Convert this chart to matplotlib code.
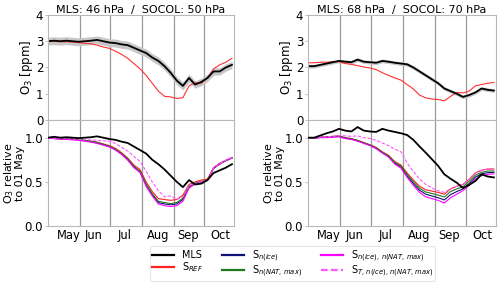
import numpy as np
import matplotlib
matplotlib.use('Agg')
import matplotlib.pyplot as plt

# days since 01 May
days = np.arange(0, 181, 6)

# ---- 46/50 hPa (left) ----
mls_l = [3.0, 3.02, 3.0, 3.02, 3.0, 2.98, 3.0, 3.02, 3.05, 3.0, 2.95, 2.93, 2.88, 2.85, 2.75, 2.65,
         2.55, 2.38, 2.25, 2.05, 1.8, 1.5, 1.3, 1.6, 1.35, 1.45, 1.6, 1.85, 1.85, 2.0, 2.1]
mls_sd_l = [0.15, 0.15, 0.15, 0.15, 0.15, 0.15, 0.15, 0.15, 0.15, 0.15, 0.15, 0.15, 0.15, 0.15, 0.15, 0.15,
            0.15, 0.15, 0.15, 0.15, 0.15, 0.15, 0.15, 0.15, 0.14, 0.14, 0.14, 0.14, 0.14, 0.14, 0.14]
ref_l = [3.0, 3.0, 2.98, 2.98, 2.97, 2.95, 2.92, 2.9, 2.85, 2.78, 2.73, 2.62, 2.5, 2.35, 2.15, 1.95,
         1.7, 1.4, 1.1, 0.9, 0.88, 0.82, 0.85, 1.3, 1.42, 1.4, 1.6, 1.95, 2.1, 2.2, 2.35]

rel_mls_l = [1.0, 1.01, 1.0, 1.005, 1.0, 0.995, 1.0, 1.005, 1.015, 1.0, 0.985, 0.975, 0.955, 0.94, 0.9, 0.86,
             0.82, 0.75, 0.7, 0.64, 0.57, 0.5, 0.44, 0.52, 0.47, 0.48, 0.52, 0.6, 0.63, 0.66, 0.7]
rel_ref_l = [1.0, 0.995, 0.99, 0.99, 0.985, 0.98, 0.97, 0.96, 0.95, 0.93, 0.91, 0.88, 0.83, 0.77, 0.69, 0.64,
             0.5, 0.39, 0.31, 0.3, 0.29, 0.3, 0.35, 0.47, 0.5, 0.52, 0.53, 0.66, 0.71, 0.74, 0.77]
rel_ice_l = [1.0, 0.99, 0.985, 0.985, 0.98, 0.975, 0.965, 0.955, 0.94, 0.92, 0.9, 0.865, 0.815, 0.755, 0.67, 0.615,
             0.465, 0.355, 0.265, 0.25, 0.24, 0.25, 0.3, 0.44, 0.48, 0.5, 0.515, 0.65, 0.7, 0.74, 0.77]
rel_nat_l = [1.0, 0.99, 0.99, 0.99, 0.98, 0.98, 0.97, 0.96, 0.945, 0.925, 0.9, 0.87, 0.82, 0.76, 0.675, 0.62,
             0.475, 0.365, 0.28, 0.265, 0.255, 0.265, 0.315, 0.45, 0.485, 0.505, 0.52, 0.655, 0.705, 0.74, 0.77]
rel_both_l = [0.995, 0.99, 0.985, 0.98, 0.975, 0.97, 0.96, 0.95, 0.935, 0.915, 0.895, 0.86, 0.81, 0.745, 0.66, 0.605,
              0.45, 0.34, 0.25, 0.23, 0.22, 0.23, 0.28, 0.43, 0.475, 0.5, 0.515, 0.655, 0.705, 0.745, 0.775]
rel_t_l = [1.0, 0.995, 0.99, 0.99, 0.985, 0.98, 0.975, 0.975, 0.97, 0.965, 0.96, 0.935, 0.89, 0.85, 0.79, 0.73,
           0.62, 0.5, 0.4, 0.33, 0.34, 0.3, 0.33, 0.46, 0.48, 0.5, 0.52, 0.655, 0.705, 0.745, 0.775]

# ---- 68/70 hPa (right) ----
mls_r = [2.05, 2.05, 2.1, 2.15, 2.2, 2.25, 2.22, 2.2, 2.3, 2.22, 2.2, 2.18, 2.25, 2.22, 2.18, 2.15,
         2.12, 2.0, 1.85, 1.7, 1.55, 1.4, 1.2, 1.1, 1.0, 0.88, 0.95, 1.05, 1.2, 1.15, 1.12]
mls_sd_r = [0.07, 0.07, 0.07, 0.07, 0.07, 0.07, 0.07, 0.07, 0.07, 0.07, 0.07, 0.07, 0.07, 0.07, 0.07, 0.07,
            0.07, 0.07, 0.07, 0.07, 0.07, 0.07, 0.07, 0.07, 0.07, 0.07, 0.07, 0.07, 0.07, 0.07, 0.07]
ref_r = [2.18, 2.18, 2.2, 2.2, 2.22, 2.22, 2.15, 2.12, 2.07, 2.02, 1.98, 1.92, 1.8, 1.7, 1.6, 1.52,
         1.35, 1.18, 0.95, 0.84, 0.8, 0.78, 0.73, 0.9, 1.05, 1.03, 1.1, 1.3, 1.35, 1.4, 1.43]

rel_mls_r = [1.0, 1.0, 1.025, 1.05, 1.07, 1.1, 1.08, 1.07, 1.12, 1.08, 1.07, 1.065, 1.1, 1.08, 1.065, 1.05,
             1.03, 0.975, 0.9, 0.83, 0.755, 0.68, 0.585, 0.535, 0.49, 0.43, 0.465, 0.51, 0.585, 0.56, 0.55]
rel_ref_r = [1.0, 1.0, 1.005, 1.01, 1.015, 1.02, 1.0, 0.99, 0.97, 0.945, 0.92, 0.89, 0.84, 0.8, 0.73, 0.69,
             0.6, 0.52, 0.45, 0.41, 0.395, 0.38, 0.36, 0.42, 0.45, 0.47, 0.53, 0.6, 0.63, 0.645, 0.645]
rel_ice_r = [1.0, 0.997, 1.002, 1.004, 1.009, 1.014, 0.994, 0.984, 0.964, 0.939, 0.914, 0.88, 0.83, 0.787, 0.71, 0.667,
             0.567, 0.48, 0.405, 0.36, 0.34, 0.32, 0.295, 0.355, 0.39, 0.42, 0.48, 0.553, 0.59, 0.604, 0.607]
rel_nat_r = [1.0, 1.0, 1.003, 1.007, 1.012, 1.017, 0.997, 0.987, 0.967, 0.942, 0.917, 0.885, 0.835, 0.793, 0.72, 0.678,
             0.585, 0.5, 0.428, 0.385, 0.368, 0.35, 0.328, 0.39, 0.42, 0.445, 0.505, 0.575, 0.607, 0.622, 0.623]
rel_both_r = [1.0, 0.995, 1.0, 1.0, 1.005, 1.01, 0.99, 0.98, 0.96, 0.935, 0.91, 0.875, 0.825, 0.78, 0.7, 0.655,
              0.55, 0.46, 0.38, 0.33, 0.31, 0.29, 0.26, 0.32, 0.36, 0.4, 0.46, 0.53, 0.57, 0.585, 0.59]
rel_t_r = [1.0, 1.0, 1.005, 1.01, 1.015, 1.025, 1.02, 1.015, 1.02, 1.0, 0.99, 0.97, 0.94, 0.91, 0.87, 0.84,
           0.71, 0.62, 0.53, 0.47, 0.43, 0.4, 0.38, 0.42, 0.45, 0.47, 0.53, 0.6, 0.63, 0.645, 0.645]

titles = ['MLS: 46 hPa  /  SOCOL: 50 hPa', 'MLS: 68 hPa  /  SOCOL: 70 hPa']
month_starts = [31, 61, 92, 123, 153]
month_label_pos = [20, 45, 75, 108, 137, 169]
month_names = ['May', 'Jun', 'Jul', 'Aug', 'Sep', 'Oct']

panels = [
    (mls_l, mls_sd_l, ref_l, rel_mls_l, rel_ref_l, rel_ice_l, rel_nat_l, rel_both_l, rel_t_l),
    (mls_r, mls_sd_r, ref_r, rel_mls_r, rel_ref_r, rel_ice_r, rel_nat_r, rel_both_r, rel_t_r),
]

FS = 8.5
SPINE = '0.72'
fig = plt.figure(figsize=(5.0, 2.91), dpi=100)

lefts = [0.096, 0.616]
widths = [0.372, 0.376]
handles = None
for i, (mls, sd, ref, r_mls, r_ref, r_ice, r_nat, r_both, r_t) in enumerate(panels):
    ax_top = fig.add_axes([lefts[i], 0.5876, widths[i], 0.361])
    ax_bot = fig.add_axes([lefts[i], 0.2234, widths[i], 0.3642])
    mls = np.array(mls); sd = np.array(sd)

    ax_top.fill_between(days, mls - sd, mls + sd, color='0.78', lw=0)
    ax_top.plot(days, ref, color='#ff3030', lw=0.8)
    ax_top.plot(days, mls, color='k', lw=1.3)
    ax_top.set_ylim(0, 4)
    ax_top.set_yticks([0, 1, 2, 3, 4])
    ax_top.set_ylabel('O$_3$ [ppm]', fontsize=FS, labelpad=0.5)
    ax_top.set_title(titles[i], fontsize=8, pad=1.5)

    l_mls, = ax_bot.plot(days, r_mls, color='k', lw=1.3, label='MLS', zorder=5)
    l_ref, = ax_bot.plot(days, r_ref, color='#ff2020', lw=0.8, label='S$_{REF}$')
    l_ice, = ax_bot.plot(days, r_ice, color='#10107a', lw=0.8, label='S$_{n(ice)}$')
    l_nat, = ax_bot.plot(days, r_nat, color='#1f7a1f', lw=0.8, label='S$_{n(NAT,\\,max)}$')
    l_both, = ax_bot.plot(days, r_both, color='#ff00ff', lw=0.8, label='S$_{n(ice),\\,n(NAT,\\,max)}$')
    l_t, = ax_bot.plot(days, r_t, color='#ff55ff', lw=0.8, ls=(0, (3, 1.5)),
                       label='S$_{T,\\,n(ice),\\,n(NAT,\\,max)}$')
    handles = [l_mls, l_ref, l_ice, l_nat, l_both, l_t]
    ax_bot.set_ylim(0, 1.2)
    ax_bot.set_yticks([0, 0.5, 1.0])
    ax_bot.set_yticklabels(['0.0', '0.5', '1.0'])
    ax_bot.set_ylabel('O$_3$ relative\nto 01 May', fontsize=8, labelpad=0, linespacing=0.85)

    for ax in (ax_top, ax_bot):
        ax.set_xlim(0, 182)
        for d in month_starts:
            ax.axvline(d, color='0.6', lw=0.9, zorder=0)
        for s in ax.spines.values():
            s.set_color(SPINE)
        ax.tick_params(axis='y', labelsize=FS, length=2.5, width=0.6, color=SPINE, pad=1)
        ax.tick_params(axis='x', length=0, labelsize=8.3, pad=2)
        ax.set_xticks(month_label_pos)
    ax_top.set_xticklabels([])
    ax_bot.set_xticklabels(month_names)

leg = fig.legend(handles=handles, loc='lower center', bbox_to_anchor=(0.585, 0.018), ncol=3,
                 fontsize=6.9, handlelength=2.3, columnspacing=2.0, labelspacing=0.0,
                 borderpad=0.2, handletextpad=0.8, frameon=True)
leg.get_frame().set_edgecolor('0.88')
leg.get_frame().set_linewidth(0.8)
for h in leg.legend_handles:
    h.set_linewidth(1.6)

fig.savefig('out.png', dpi=100)
